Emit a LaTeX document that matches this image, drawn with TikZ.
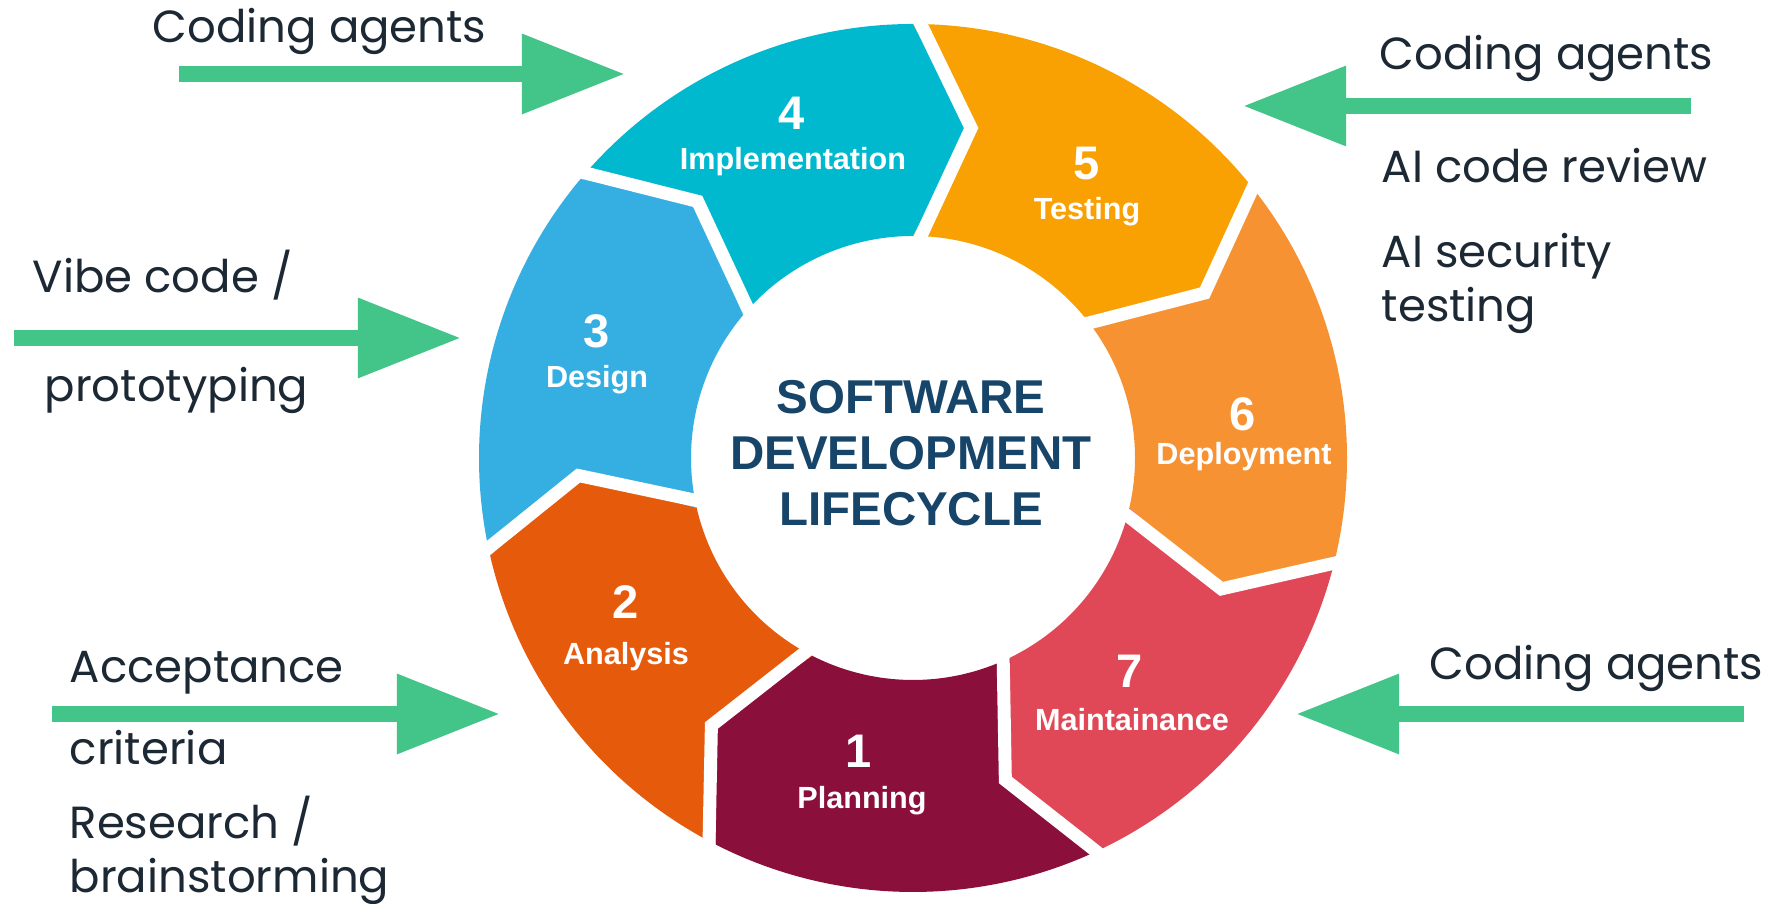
\documentclass[tikz,border=0pt]{standalone}
\usepackage{fontspec}
\setmainfont{Poppins}
\newfontfamily\wheelfont{Liberation Sans}
\usetikzlibrary{arrows.meta,positioning}

\definecolor{implcol}{RGB}{0,185,206}
\definecolor{testcol}{RGB}{249,160,3}
\definecolor{deplcol}{RGB}{247,146,50}
\definecolor{maintcol}{RGB}{225,72,87}
\definecolor{plancol}{RGB}{139,15,59}
\definecolor{anacol}{RGB}{230,90,12}
\definecolor{descol}{RGB}{53,174,225}
\definecolor{gocol}{RGB}{67,196,136}
\definecolor{titlecol}{RGB}{23,69,105}
\definecolor{notecol}{RGB}{28,40,51}

\tikzset{
  note/.style={anchor=base west, inner sep=0pt, text=notecol, align=left,
    font=\fontsize{12.8}{15.6}\selectfont},
  gobar/.style={draw=gocol, line width=0.16cm,
    -{Triangle[length=1.03cm,width=0.76cm]}},
  phasenum/.style={text=white, inner sep=0pt, font=\wheelfont\bfseries\fontsize{13.4}{14}\selectfont},
  phasename/.style={text=white, inner sep=0pt, font=\wheelfont\bfseries\fontsize{8.7}{10}\selectfont},
  title/.style={text=titlecol, align=center, inner sep=0pt,
    font=\wheelfont\bfseries\fontsize{13.5}{15.9}\selectfont}
}

\begin{document}
\begin{tikzpicture}[x=0.01cm,y=0.01cm]
\fill[white] (0,0) rectangle (1772,904);
\useasboundingbox (0,0) rectangle (1772,904);
\coordinate (C) at (913,446);

% the wheel, one chevron per phase
\begin{scope}[shift={(C)}]
\foreach \a/\b/\col in {140/90/implcol, 90/39.5/testcol, 39.5/-13/deplcol,
    -13/-64/maintcol, -64/-117/plancol, -117/-167/anacol, -167/-220/descol}
  \fill[\col] (\a:434) arc[start angle=\a, end angle=\b, radius=434]
    -- (\b-10:335) -- (\b:222) arc[start angle=\b, end angle=\a, radius=222]
    -- (\a-10:335) -- cycle;
\foreach \b in {90,39.5,-13,-64,-117,-167,-220}
  \draw[white, line width=0.13cm] (\b:450) -- (\b-10:335) -- (\b:205);
\end{scope}

\node[title] (T) at (911,451) {SOFTWARE\\DEVELOPMENT\\LIFECYCLE};

\foreach \n/\name/\x/\y/\lx/\ly in {1/Planning/859/153/862/103, 2/Analysis/626/302/626/247,
    3/Design/597/573/597/524, 4/Implementation/792/791/793/742, 5/Testing/1087/740/1087/692,
    6/Deployment/1243/490/1244/447, 7/Maintainance/1130/233/1132/184}
{
  \node[phasenum] (num\n) at (\x,\y) {\n};
  \node[phasename] (lab\n) at (\lx,\ly) {\name};
}

% notes on the left (two-line notes sit on their last line)
\node[note] (N1) at (152,861) {Coding agents};
\node[note] (N2) at (32,611) {Vibe code /};
\node[note] (N3) at (44,502) {prototyping};
\node[note] (N4) at (69,221) {Acceptance};
\node[note] (N5) at (69,139) {criteria};
\node[note] (N6) at (69,11) {Research /\\brainstorming};

% notes on the right
\node[note] (N7) at (1379,834) {Coding agents};
\node[note] (N8) at (1381,721) {AI code review};
\node[note] (N9) at (1381,582) {AI security\\testing};
\node[note] (N10) at (1429,224) {Coding agents};

\coordinate (S1) at (179,830);  \coordinate (E1) at (625,830);
\coordinate (S2) at (14,566);   \coordinate (E2) at (461,566);
\coordinate (S3) at (52,190);   \coordinate (E3) at (500,190);
\coordinate (S4) at (1691,798); \coordinate (E4) at (1243,798);
\coordinate (S5) at (1744,190); \coordinate (E5) at (1296,190);
\foreach \i in {1,...,5}
  \draw[gobar] (S\i) -- (E\i);
\end{tikzpicture}
\end{document}
